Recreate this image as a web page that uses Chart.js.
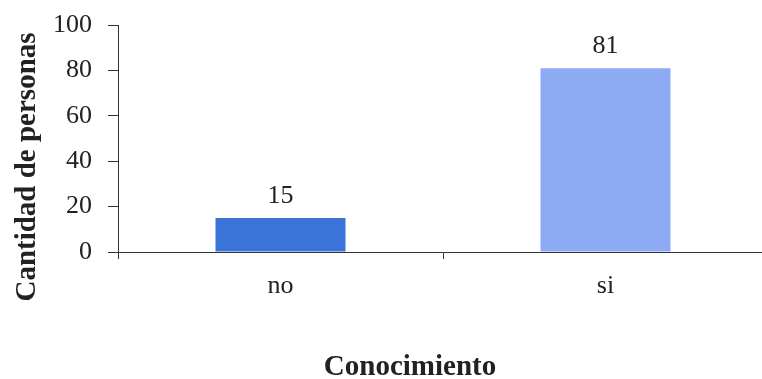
<!DOCTYPE html>
<html>
<head>
<meta charset="utf-8">
<script src="https://cdn.jsdelivr.net/npm/chart.js@4/dist/chart.umd.min.js"></script>
<style>
  html, body { margin: 0; padding: 0; background: #fff; overflow: hidden; }
  #wrap { width: 762px; height: 379px; overflow: hidden; }
  canvas { display: block; }
</style>
</head>
<body>
<div id="wrap"><canvas id="c" width="770" height="379"></canvas></div>
<script>
const categories = ['no', 'si'];
const personas = [15, 81];
const barColors = ['#3a74d8', '#8eaaf5'];
const yTicks = [0, 20, 40, 60, 80, 100];

const yTitle = 'Cantidad de personas';
const xTitle = 'Conocimiento';

const serif = '"Liberation Serif", "Times New Roman", serif';
const ink = '#222';
const axisColor = '#333';

// value labels above each bar, and the two axis titles
const annotate = {
  id: 'annotate',
  afterDatasetsDraw(chart) {
    const ctx = chart.ctx;
    const meta = chart.getDatasetMeta(0);
    ctx.save();
    ctx.fillStyle = ink;
    ctx.font = '26px ' + serif;
    ctx.textAlign = 'center';
    ctx.textBaseline = 'alphabetic';
    meta.data.forEach((bar, i) => {
      ctx.fillText(String(personas[i]), bar.x, bar.y - 15);
    });
    ctx.restore();
  },
  afterDraw(chart) {
    const ctx = chart.ctx;
    ctx.save();
    ctx.fillStyle = ink;
    ctx.font = 'bold 29px ' + serif;
    ctx.textAlign = 'center';
    ctx.textBaseline = 'alphabetic';
    ctx.fillText(xTitle, 410, 375);
    ctx.translate(35, 167);
    ctx.rotate(-Math.PI / 2);
    ctx.fillText(yTitle, 0, 0);
    ctx.restore();
  }
};

new Chart(document.getElementById('c'), {
  type: 'bar',
  data: {
    labels: categories,
    datasets: [{
      data: personas,
      backgroundColor: barColors,
      borderWidth: 0,
      barPercentage: 0.4,
      categoryPercentage: 1.0
    }]
  },
  options: {
    responsive: false,
    animation: false,
    events: [],
    layout: { padding: { top: 25, right: 2, left: 0, bottom: 0 } },
    plugins: {
      legend: { display: false },
      tooltip: { enabled: false }
    },
    scales: {
      x: {
        offset: true,
        grid: {
          offset: true,
          drawOnChartArea: false,
          drawTicks: true,
          tickLength: 7,
          color: axisColor,
          lineWidth: 1
        },
        border: { display: true, color: axisColor, width: 1 },
        ticks: {
          color: ink,
          font: { family: serif, size: 26 },
          padding: 12,
          maxRotation: 0
        },
        afterFit(scale) {
          scale.height = 127;
          scale.paddingLeft = 0;
          scale.paddingRight = 0;
        }
      },
      y: {
        min: 0,
        max: 100,
        afterBuildTicks(scale) { scale.ticks = yTicks.map(v => ({ value: v })); },
        grid: {
          drawOnChartArea: false,
          drawTicks: true,
          tickLength: 10,
          color: axisColor,
          tickColor: axisColor,
          tickWidth: 1,
          lineWidth: 1
        },
        border: { display: true, color: axisColor, width: 1 },
        ticks: {
          color: ink,
          font: { family: serif, size: 26 },
          padding: 16
        },
        afterFit(scale) {
          scale.width = 118;
          scale.paddingTop = 0;
          scale.paddingBottom = 0;
        }
      }
    }
  },
  plugins: [annotate]
});
</script>
</body>
</html>
